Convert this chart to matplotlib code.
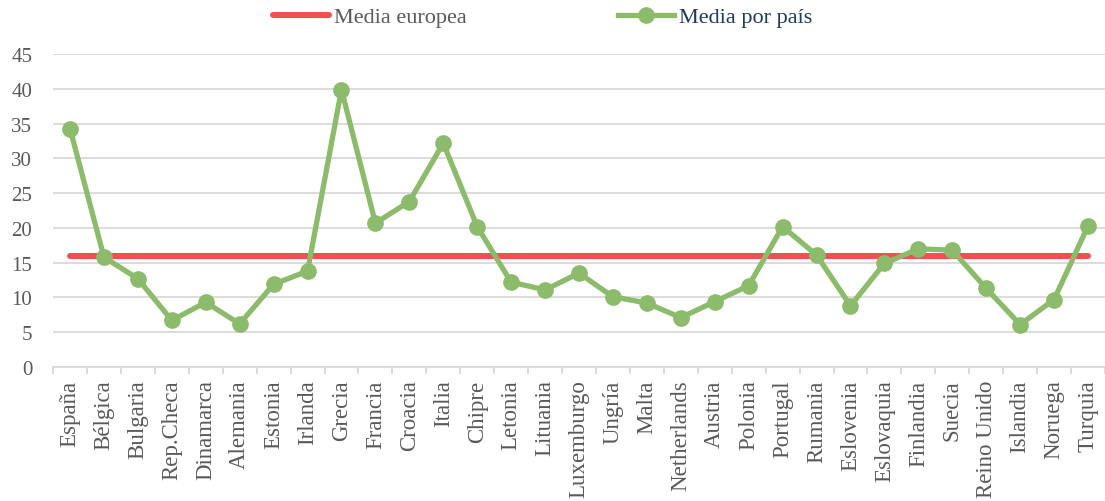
import matplotlib
matplotlib.use("Agg")
import matplotlib.pyplot as plt
from matplotlib.lines import Line2D

# Data
countries = ["España", "Bélgica", "Bulgaria", "Rep.Checa", "Dinamarca", "Alemania",
             "Estonia", "Irlanda", "Grecia", "Francia", "Croacia", "Italia", "Chipre",
             "Letonia", "Lituania", "Luxemburgo", "Ungría", "Malta", "Netherlands",
             "Austria", "Polonia", "Portugal", "Rumania", "Eslovenia", "Eslovaquia",
             "Finlandia", "Suecia", "Reino Unido", "Islandia", "Noruega", "Turquia"]
media_pais = [34.3, 15.8, 12.7, 6.7, 9.3, 6.2, 11.9, 13.8, 39.9, 20.7, 23.8, 32.2, 20.2,
              12.2, 11.1, 13.5, 10.1, 9.2, 7.1, 9.4, 11.7, 20.2, 16.1, 8.8, 14.9,
              17.0, 16.8, 11.3, 6.1, 9.7, 20.3]
media_europea = 16.0
yticks = [0, 5, 10, 15, 20, 25, 30, 35, 40, 45]

GREEN = "#8CBB6C"
RED = "#F0504F"
GRID = "#D9D9D9"
TXT = "#595959"
NAVY = "#1F3864"

plt.rcParams["font.family"] = ["Liberation Serif", "DejaVu Serif"]

fig = plt.figure(figsize=(11.05, 5.02), dpi=100)
ax = fig.add_axes([0.048, 0.267, 0.952, 0.623])

x = list(range(len(countries)))
ax.plot(x, [media_europea] * len(x), color=RED, lw=4.3, solid_capstyle="round", zorder=2)
ax.plot(x, media_pais, color=GREEN, lw=3.8, marker="o", ms=11, zorder=3)

ax.set_xlim(-0.5, len(x) - 0.5)
ax.set_ylim(0, 45)
ax.set_yticks(yticks)
ax.grid(axis="y", color=GRID, lw=1.3)
ax.set_axisbelow(True)

for s in ["top", "right", "left"]:
    ax.spines[s].set_visible(False)
ax.spines["bottom"].set_color(GRID)
ax.spines["bottom"].set_linewidth(1.3)

ax.set_xticks(x)
ax.set_xticklabels(countries, rotation=90, fontsize=16.5, color=TXT)
ax.set_xticks([i - 0.5 for i in range(len(x) + 1)], minor=True)
ax.tick_params(axis="x", which="major", length=0, pad=9)
ax.tick_params(axis="x", which="minor", length=5, color=GRID, width=1.3)
ax.tick_params(axis="y", length=0, pad=15, labelsize=15, labelcolor=TXT)

handles = [Line2D([], [], color=RED, lw=4.3, solid_capstyle="round"),
           Line2D([], [], color=GREEN, lw=3.8, marker="o", ms=11)]
leg = fig.legend(handles, ["Media europea", "Media por país"], loc="center",
                 bbox_to_anchor=(0.491, 0.964), ncol=2, frameon=False, fontsize=16,
                 handlelength=2.52, handletextpad=0.22, columnspacing=6.8)
leg.get_texts()[0].set_color(TXT)
leg.get_texts()[1].set_color(NAVY)

fig.savefig("out.png", dpi=100)
